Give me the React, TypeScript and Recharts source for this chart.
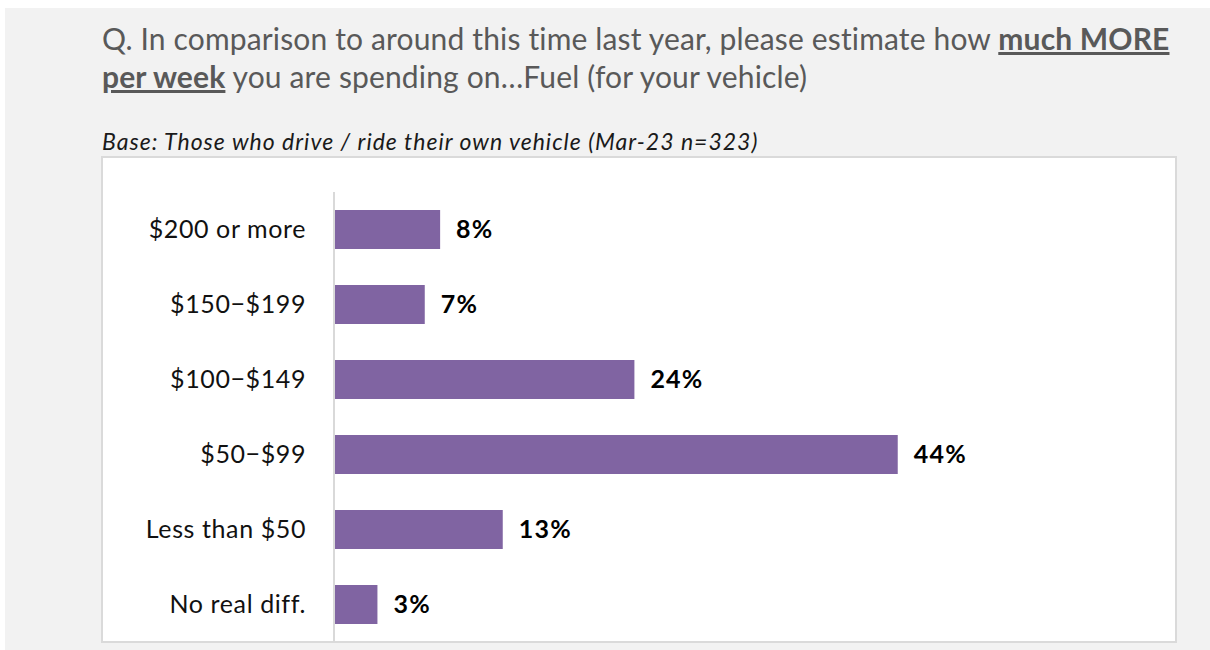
import React from 'react';
import { BarChart, Bar, XAxis, YAxis, LabelList } from 'recharts';

const categories = ['$200 or more', '$150−$199', '$100−$149', '$50−$99', 'Less than $50', 'No real diff.'];
const values = [8.3, 7.1, 23.5, 44.1, 13.2, 3.4];
const xDomain = [0, 60];

const data = categories.map((c, i) => ({ category: c, value: values[i] }));

const FONT = 'Lato, "Source Sans Pro", sans-serif';

export default function App() {
  return (
    <div style={{ position: 'absolute', left: 0, top: 0, width: 1210, height: 650, fontFamily: FONT }}>
      <div style={{ position: 'absolute', left: 5, top: 8, width: 1205, height: 642, background: '#f2f2f2' }} />
      <div
        style={{
          position: 'absolute',
          left: 102,
          top: 19,
          fontSize: 30,
          letterSpacing: 0.15,
          lineHeight: '38px',
          color: '#595959',
          whiteSpace: 'nowrap',
        }}
      >
        Q. In comparison to around this time last year, please estimate how <b><u>much MORE</u></b>
        <br />
        <b><u>per week</u></b> you are spending on…Fuel (for your vehicle)
      </div>
      <div
        style={{
          position: 'absolute',
          left: 102,
          top: 127,
          fontSize: 23,
          letterSpacing: 1,
          fontStyle: 'italic',
          color: '#1a1a1a',
          whiteSpace: 'nowrap',
        }}
      >
        Base: Those who drive / ride their own vehicle (Mar-23 n=323)
      </div>
      <div
        style={{
          position: 'absolute',
          left: 101,
          top: 156,
          width: 1072,
          height: 483,
          background: '#ffffff',
          border: '2px solid #dadada',
        }}
      />
      <div style={{ position: 'absolute', left: 103, top: 158 }}>
        <BarChart
          width={1072}
          height={484}
          layout="vertical"
          data={data}
          margin={{ top: 34, right: 74, bottom: 0, left: 0 }}
          barSize={39}
        >
          <XAxis type="number" domain={xDomain} hide />
          <YAxis
            type="category"
            dataKey="category"
            width={231}
            tickLine={false}
            tickSize={0}
            tickMargin={28}
            axisLine={{ stroke: '#d9d9d9', strokeWidth: 2 }}
            tick={{ fill: '#111111', fontSize: 25, letterSpacing: 0.6, fontFamily: FONT }}
            interval={0}
          />
          <Bar dataKey="value" fill="#8064a2" isAnimationActive={false}>
            <LabelList
              dataKey="value"
              position="right"
              offset={16}
              formatter={(v: number) => `${Math.round(v)}%`}
              style={{ fill: '#000000', fontSize: 25, letterSpacing: 1.2, fontWeight: 700, fontFamily: FONT }}
            />
          </Bar>
        </BarChart>
      </div>
    </div>
  );
}
